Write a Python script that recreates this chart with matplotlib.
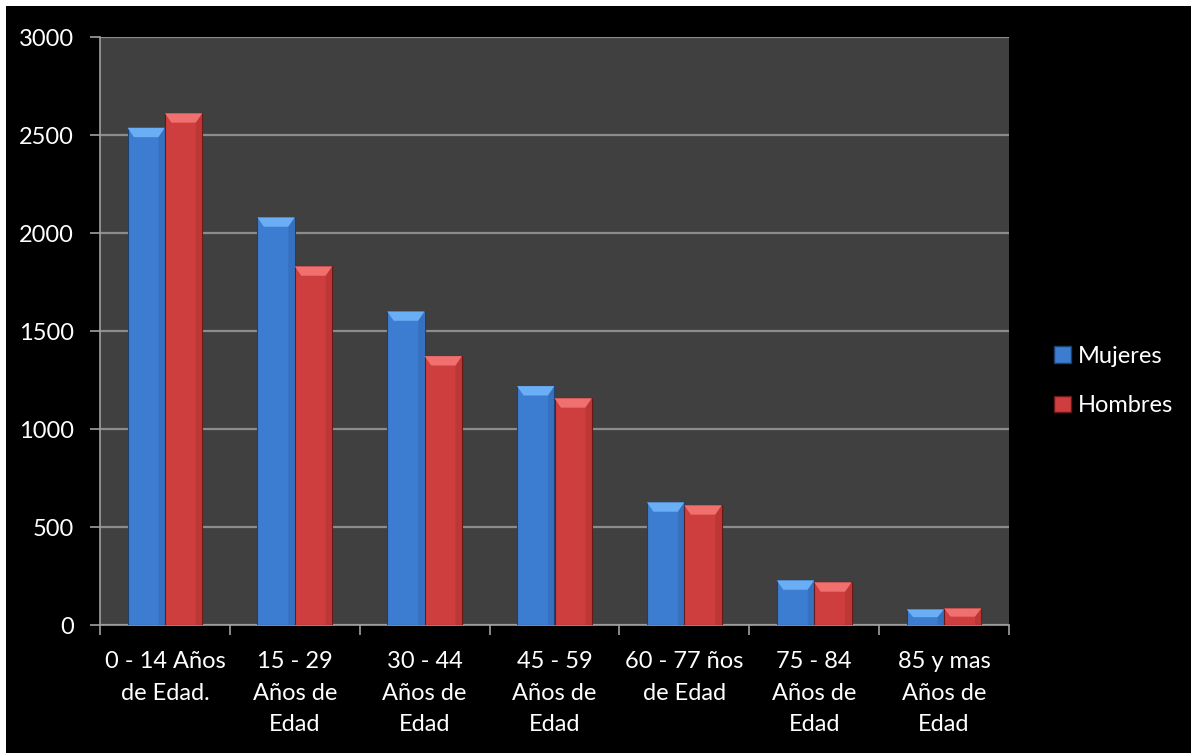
import numpy as np
import matplotlib
matplotlib.use("Agg")
import matplotlib.pyplot as plt
from matplotlib.patches import Rectangle, Polygon

# data
categorias = ["0 - 14 Años\nde Edad.", "15 - 29\nAños de\nEdad", "30 - 44\nAños de\nEdad",
              "45 - 59\nAños de\nEdad", "60 - 77 ños\nde Edad", "75 - 84\nAños de\nEdad",
              "85 y mas\nAños de\nEdad"]
mujeres = [2537, 2080, 1600, 1219, 626, 228, 80]
hombres = [2611, 1830, 1372, 1157, 611, 218, 85]
series = ["Mujeres", "Hombres"]
yticks = [0, 500, 1000, 1500, 2000, 2500, 3000]

plt.rcParams['font.family'] = ['Lato', 'DejaVu Sans']
plt.rcParams['font.size'] = 17

W, H = 1191, 753
fig = plt.figure(figsize=(W / 100, H / 100), dpi=100, facecolor='white')
# black chart area, leaves thin white margin top/left like the original
fig.patches.append(Rectangle((6 / W, 0), 1 - 6 / W, 1 - 6 / H, transform=fig.transFigure,
                             facecolor='black', edgecolor='none', zorder=-10))

ax = fig.add_axes([100 / W, 1 - 625 / H, 909 / W, 588 / H])
ax.set_facecolor('#404040')

colores = {"Mujeres": ('#3c7dd2', '#6aaef5', '#2a5c9e', '#1d3f6e'),
           "Hombres": ('#cf3e3e', '#f07070', '#9e2a2a', '#6a1717')}

x = np.arange(len(categorias))
bw = 0.288


def bevel_bar(xc, val, col):
    main, light, dark, edge = col
    x0, x1 = xc - bw / 2, xc + bw / 2
    ax.bar(xc, val, width=bw, color=main, edgecolor=edge, linewidth=0.8, zorder=3)
    bx = 0.05
    by = min(48, val / 2)
    # top bevel
    ax.add_patch(Polygon([(x0, val), (x1, val), (x1 - bx, val - by), (x0 + bx, val - by)],
                         closed=True, facecolor=light, edgecolor='none', zorder=4))
    # side bevels, kept subtle
    ax.add_patch(Polygon([(x1, 0), (x1, val), (x1 - bx, val - by), (x1 - bx, 0)],
                         closed=True, facecolor=dark, alpha=0.35, edgecolor='none', zorder=4))


for i in range(len(categorias)):
    bevel_bar(x[i] - bw / 2, mujeres[i], colores["Mujeres"])
    bevel_bar(x[i] + bw / 2, hombres[i], colores["Hombres"])

ax.set_xlim(-0.5, len(categorias) - 0.5)
ax.set_ylim(0, 3000)
ax.set_yticks(yticks)
ax.yaxis.grid(True, color='#8c8c8c', linewidth=1.6, zorder=1)
ax.set_axisbelow(True)

# category boundaries as major ticks, labels on minor ticks
ax.set_xticks(np.arange(-0.5, len(categorias), 1.0))
ax.set_xticklabels([])
ax.set_xticks(x, minor=True)
ax.set_xticklabels(categorias, minor=True, color='white', linespacing=1.6)
ax.tick_params(axis='x', which='major', length=7, color='#a0a0a0', width=1.2)
ax.tick_params(axis='x', which='minor', length=0, pad=19)
ax.tick_params(axis='y', length=7, color='#a0a0a0', width=1.2, labelcolor='white', pad=12)

for s in ['top', 'right']:
    ax.spines[s].set_visible(False)
for s in ['left', 'bottom']:
    ax.spines[s].set_color('#a0a0a0')
    ax.spines[s].set_linewidth(1.2)

handles = [Rectangle((0, 0), 1, 1, facecolor=colores[s][0], edgecolor=colores[s][3]) for s in series]
leg = fig.legend(handles, series, loc='center left', bbox_to_anchor=(1033 / W, 1 - 381 / H),
                 frameon=False, handlelength=0.7, handleheight=0.7, handletextpad=0.3,
                 labelspacing=1.2, fontsize=17)
for t in leg.get_texts():
    t.set_color('white')

fig.savefig("out.png", dpi=100, facecolor=fig.get_facecolor())
